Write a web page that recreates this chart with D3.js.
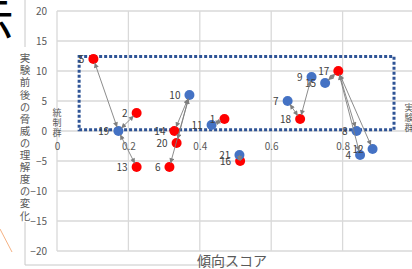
<!DOCTYPE html>
<html>
<head>
<meta charset="utf-8">
<script src="https://cdn.jsdelivr.net/npm/d3@7"></script>
<style>
  body { margin: 0; background: #fff; }
  svg { display: block; font-family: "Noto Sans CJK JP", "Noto Sans", sans-serif; }
</style>
</head>
<body>
<svg id="chart" width="412" height="269"></svg>
<script>
// experimental group (blue)
var expIds = [19, 10, 11, 21, 7, 9, 15, 8, 4, 12];
var expX   = [0.172, 0.371, 0.433, 0.511, 0.646, 0.713, 0.751, 0.839, 0.849, 0.884];
var expY   = [0, 6, 1, -4, 5, 9, 8, 0, -4, -3];

// control group (red)
var ctrlIds = [5, 2, 13, 14, 20, 6, 1, 16, 18, 17];
var ctrlX   = [0.102, 0.223, 0.223, 0.329, 0.335, 0.315, 0.469, 0.513, 0.681, 0.788];
var ctrlY   = [12, 3, -6, 0, -2, -6, 2, -5, 2, 10];

// matched pairs [experimental id, control id]
var pairs = [[19,5],[19,2],[19,13],[10,14],[10,20],[10,6],[11,1],[21,16],
             [7,18],[9,18],[15,17],[8,17],[4,17],[12,17]];

var xTicks = [0, 0.2, 0.4, 0.6, 0.8, 1];
var yTicks = [-20, -15, -10, -5, 0, 5, 10, 15, 20];
var boxX = [0.062, 0.944];   // dotted region
var boxY = [0.2, 12.4];

var svg = d3.select("#chart");
var x = d3.scaleLinear().domain([0, 1]).range([57, 414]);
var y = d3.scaleLinear().domain([-20, 20]).range([251, 11]);

// stray bits of the surrounding slide
svg.append("text").attr("x", 14).attr("y", 38).attr("text-anchor", "end")
  .attr("font-size", 48).attr("fill", "#000").text("示");
svg.append("path").attr("d", "M25,0V47M25,222V265H235")
  .attr("fill", "none").attr("stroke", "#c8c8c8").attr("stroke-width", 1);
svg.append("line").attr("x1", 0).attr("y1", 229).attr("x2", 12).attr("y2", 252)
  .attr("stroke", "#f4b183").attr("stroke-width", 1);

// grid
svg.append("g").selectAll("line").data(yTicks).join("line")
  .attr("x1", x(0)).attr("x2", 412)
  .attr("y1", function(d) { return y(d); }).attr("y2", function(d) { return y(d); })
  .attr("stroke", "#d9d9d9").attr("stroke-width", 1.3);
svg.append("g").selectAll("line").data(xTicks).join("line")
  .attr("y1", y(20)).attr("y2", y(-20))
  .attr("x1", function(d) { return x(d); }).attr("x2", function(d) { return x(d); })
  .attr("stroke", "#d9d9d9").attr("stroke-width", 1.3);

// axes labels
var yAxis = svg.append("g").attr("transform", "translate(" + x(0) + ",0)")
  .call(d3.axisLeft(y).tickValues(yTicks).tickSize(0).tickPadding(10));
var xAxis = svg.append("g").attr("transform", "translate(0," + y(0) + ")")
  .call(d3.axisBottom(x).tickValues(xTicks).tickSize(0).tickPadding(12)
    .tickFormat(function(d) { return d3.format("")(d); }));
[yAxis, xAxis].forEach(function(a) {
  a.select(".domain").remove();
  a.selectAll("text").attr("fill", "#595959").attr("font-size", 10)
    .attr("font-family", "\"Noto Sans CJK JP\", sans-serif");
});

// dotted box
svg.append("rect")
  .attr("x", x(boxX[0])).attr("y", y(boxY[1]))
  .attr("width", x(boxX[1]) - x(boxX[0])).attr("height", y(boxY[0]) - y(boxY[1]))
  .attr("fill", "none").attr("stroke", "#2f5496").attr("stroke-width", 3)
  .attr("stroke-dasharray", "3,2");

// titles
svg.append("text").attr("x", 25).attr("y", 53)
  .style("writing-mode", "vertical-rl").attr("font-size", 10.5).attr("letter-spacing", 1.6)
  .attr("fill", "#595959").text("実験前後の脅威の理解度の変化");
svg.append("text").attr("x", 232).attr("y", 266).attr("text-anchor", "middle")
  .attr("font-size", 14).attr("fill", "#595959").text("傾向スコア");
svg.append("text").attr("x", 57).attr("y", 108)
  .style("writing-mode", "vertical-rl").attr("font-size", 9).attr("letter-spacing", 1)
  .attr("fill", "#595959").text("統制群");
svg.append("text").attr("x", 409).attr("y", 103)
  .style("writing-mode", "vertical-rl").attr("font-size", 9).attr("letter-spacing", 1)
  .attr("fill", "#595959").text("実験群");

// points
var pts = {};
expIds.forEach(function(id, i) { pts[id] = {id: id, x: expX[i], y: expY[i], c: "#4472c4"}; });
ctrlIds.forEach(function(id, i) { pts[id] = {id: id, x: ctrlX[i], y: ctrlY[i], c: "#ff0000"}; });
var all = Object.values(pts);

svg.append("g").selectAll("circle").data(all).join("circle")
  .attr("cx", function(d) { return x(d.x); }).attr("cy", function(d) { return y(d.y); })
  .attr("r", 5).attr("fill", function(d) { return d.c; });

svg.append("g").selectAll("text").data(all).join("text")
  .attr("x", function(d) { return x(d.x) - 9; }).attr("y", function(d) { return y(d.y); })
  .attr("dy", "0.35em").attr("text-anchor", "end").attr("font-size", 10)
  .attr("fill", "#404040").text(function(d) { return d.id; });

// arrows
var defs = svg.append("defs");
["s", "e"].forEach(function(k) {
  defs.append("marker").attr("id", "arr" + k)
    .attr("viewBox", "0 0 6 6").attr("refX", k == "e" ? 6 : 0).attr("refY", 3)
    .attr("markerWidth", 6).attr("markerHeight", 5).attr("markerUnits", "userSpaceOnUse")
    .attr("orient", "auto")
    .append("path").attr("d", k == "e" ? "M0,0L6,3L0,6z" : "M6,0L0,3L6,6z").attr("fill", "#7f7f7f");
});

svg.append("g").selectAll("line").data(pairs).join("line")
  .each(function(p) {
    var a = pts[p[0]], b = pts[p[1]];
    var x1 = x(a.x), y1 = y(a.y), x2 = x(b.x), y2 = y(b.y);
    var len = Math.hypot(x2 - x1, y2 - y1), s = len > 14 ? 4 / len : 0;
    d3.select(this)
      .attr("x1", x1 + (x2 - x1) * s).attr("y1", y1 + (y2 - y1) * s)
      .attr("x2", x2 - (x2 - x1) * s).attr("y2", y2 - (y2 - y1) * s);
  })
  .attr("stroke", "#7f7f7f").attr("stroke-width", 0.9)
  .attr("marker-start", "url(#arrs)").attr("marker-end", "url(#arre)");
</script>
</body>
</html>
